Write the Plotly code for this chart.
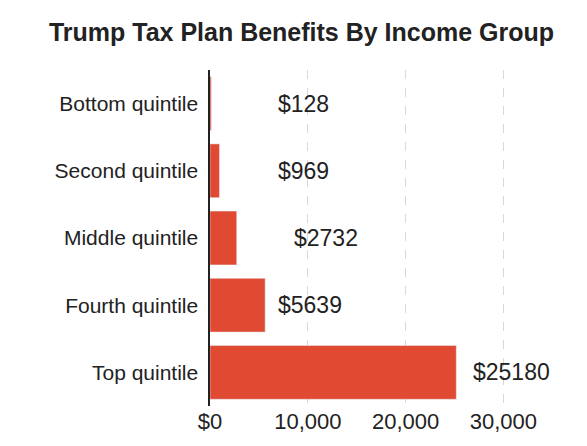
import plotly.graph_objects as go

groups = ["Bottom quintile", "Second quintile", "Middle quintile", "Fourth quintile", "Top quintile"]
benefits = [128, 969, 2732, 5639, 25180]
labels = ["$128", "$969", "$2732", "$5639", "$25180"]
label_x = [6700, 6700, 8400, 6700, 26700]
ticks = [0, 10000, 20000, 30000]
tick_text = ["$0", "10,000", "20,000", "30,000"]

font = "Liberation Sans Narrow, Arial Narrow, Liberation Sans, sans-serif"

fig = go.Figure()
fig.add_trace(go.Bar(y=groups, x=benefits, orientation="h",
                     marker_color="#e04a33", hoverinfo="skip"))

for g, lab, lx in zip(groups, labels, label_x):
    fig.add_annotation(x=lx, y=g, text=lab, showarrow=False, xanchor="left",
                       font=dict(size=23, color="#222", family=font))

fig.update_layout(
    width=587, height=446,
    title=dict(text="<b>Trump Tax Plan Benefits By Income Group</b>", x=0.5, y=0.965,
               xanchor="center", font=dict(size=25, color="#222", family=font)),
    margin=dict(l=202, r=28, t=62, b=48),
    plot_bgcolor="white", paper_bgcolor="white",
    bargap=0.2, showlegend=False,
    xaxis=dict(range=[0, 36500], tickvals=ticks, ticktext=tick_text,
               showgrid=True, gridcolor="#d8d8d8", griddash="dash",
               zeroline=False, showline=False, automargin=False,
               tickfont=dict(size=22, color="#222", family=font)),
    yaxis=dict(autorange="reversed", showline=True, linecolor="#222", linewidth=1.5,
               ticks="", ticksuffix=" ", automargin=False,
               tickfont=dict(size=21, color="#222", family=font)),
)

fig.write_html("out.html")
